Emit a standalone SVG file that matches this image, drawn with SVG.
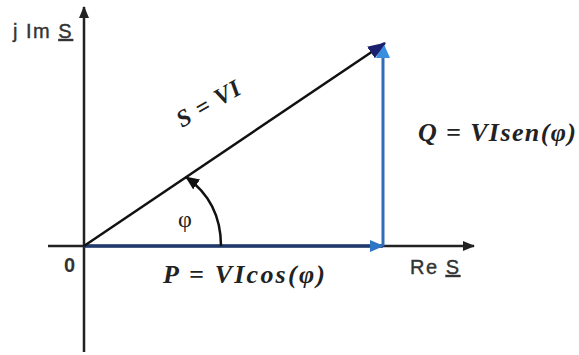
<svg xmlns="http://www.w3.org/2000/svg" width="579" height="355" viewBox="0 0 579 355">
<defs>
<marker id="axhead" markerUnits="userSpaceOnUse" markerWidth="12" markerHeight="10" refX="11" refY="5" orient="auto"><path d="M0,0 L12,5 L0,10 Z" fill="#222"/></marker>
<marker id="phead" markerUnits="userSpaceOnUse" markerWidth="14" markerHeight="12" refX="13" refY="6" orient="auto"><path d="M0,0 L14,6 L0,12 Z" fill="#2e75c6"/></marker>
<marker id="qhead" markerUnits="userSpaceOnUse" markerWidth="16" markerHeight="14" refX="15" refY="7" orient="auto"><path d="M0,0 L16,7 L0,14 Z" fill="#3a8ee0"/></marker>
<marker id="shead" markerUnits="userSpaceOnUse" markerWidth="18" markerHeight="14" refX="17" refY="7" orient="auto"><path d="M0,0 L18,7 L0,14 Z" fill="#1a1f6e"/></marker>
<marker id="arcHead" markerUnits="userSpaceOnUse" markerWidth="14" markerHeight="12" refX="13" refY="6" orient="auto"><path d="M0,0 L14,6 L0,12 Z" fill="#111"/></marker>
</defs>
<style>
.lbl{font-family:"Liberation Sans",Arial,sans-serif;fill:#333;}
.math{font-family:"Liberation Serif","Times New Roman",serif;font-weight:bold;font-style:italic;fill:#222;}
</style>
<rect width="579" height="355" fill="#fff"/>
<g id="connectors">
<line id="axis-im" x1="84" y1="352" x2="84" y2="7" stroke="#222" stroke-width="2.5" marker-end="url(#axhead)"/>
<line id="axis-re" x1="48" y1="246" x2="474" y2="246" stroke="#222" stroke-width="2.5" marker-end="url(#axhead)"/>
<line id="vec-p" x1="84" y1="246" x2="383" y2="246" stroke="#213a6e" stroke-width="3.5" marker-end="url(#phead)"/>
<line id="vec-q" x1="383" y1="246" x2="383" y2="43" stroke="#2f6db5" stroke-width="3" marker-end="url(#qhead)"/>
<line id="vec-s" x1="84" y1="246" x2="385" y2="43" stroke="#111" stroke-width="2.5" marker-end="url(#shead)"/>
<path id="arc-phi" d="M221,246 C221,216 210,194 186,177" fill="none" stroke="#111" stroke-width="2.5" marker-end="url(#arcHead)"/>
</g>
<g id="label-im"><text class="lbl" x="13" y="38" font-size="20" letter-spacing="1.5" stroke="#333" stroke-width="0.4">j Im <tspan text-decoration="underline">S</tspan></text></g>
<g id="label-re"><text class="lbl" x="410" y="274" font-size="20" letter-spacing="1.5" stroke="#333" stroke-width="0.4">Re <tspan text-decoration="underline">S</tspan></text></g>
<g id="label-origin"><text class="lbl" x="64" y="272" font-size="20" font-weight="bold">0</text></g>
<g id="label-phi"><text x="185" y="227" font-size="24" text-anchor="middle" font-family="'Liberation Serif','Times New Roman',serif" fill="#222">φ</text></g>
<g id="label-s"><text class="math" x="182" y="128" font-size="24" transform="rotate(-30 182 128)" textLength="70" lengthAdjust="spacing">S = VI</text></g>
<g id="label-p"><text class="math" x="163" y="283" font-size="26" textLength="162" lengthAdjust="spacing">P = VIcos(φ)</text></g>
<g id="label-q"><text class="math" x="418" y="141" font-size="26" textLength="158" lengthAdjust="spacing">Q = VIsen(φ)</text></g>
</svg>
